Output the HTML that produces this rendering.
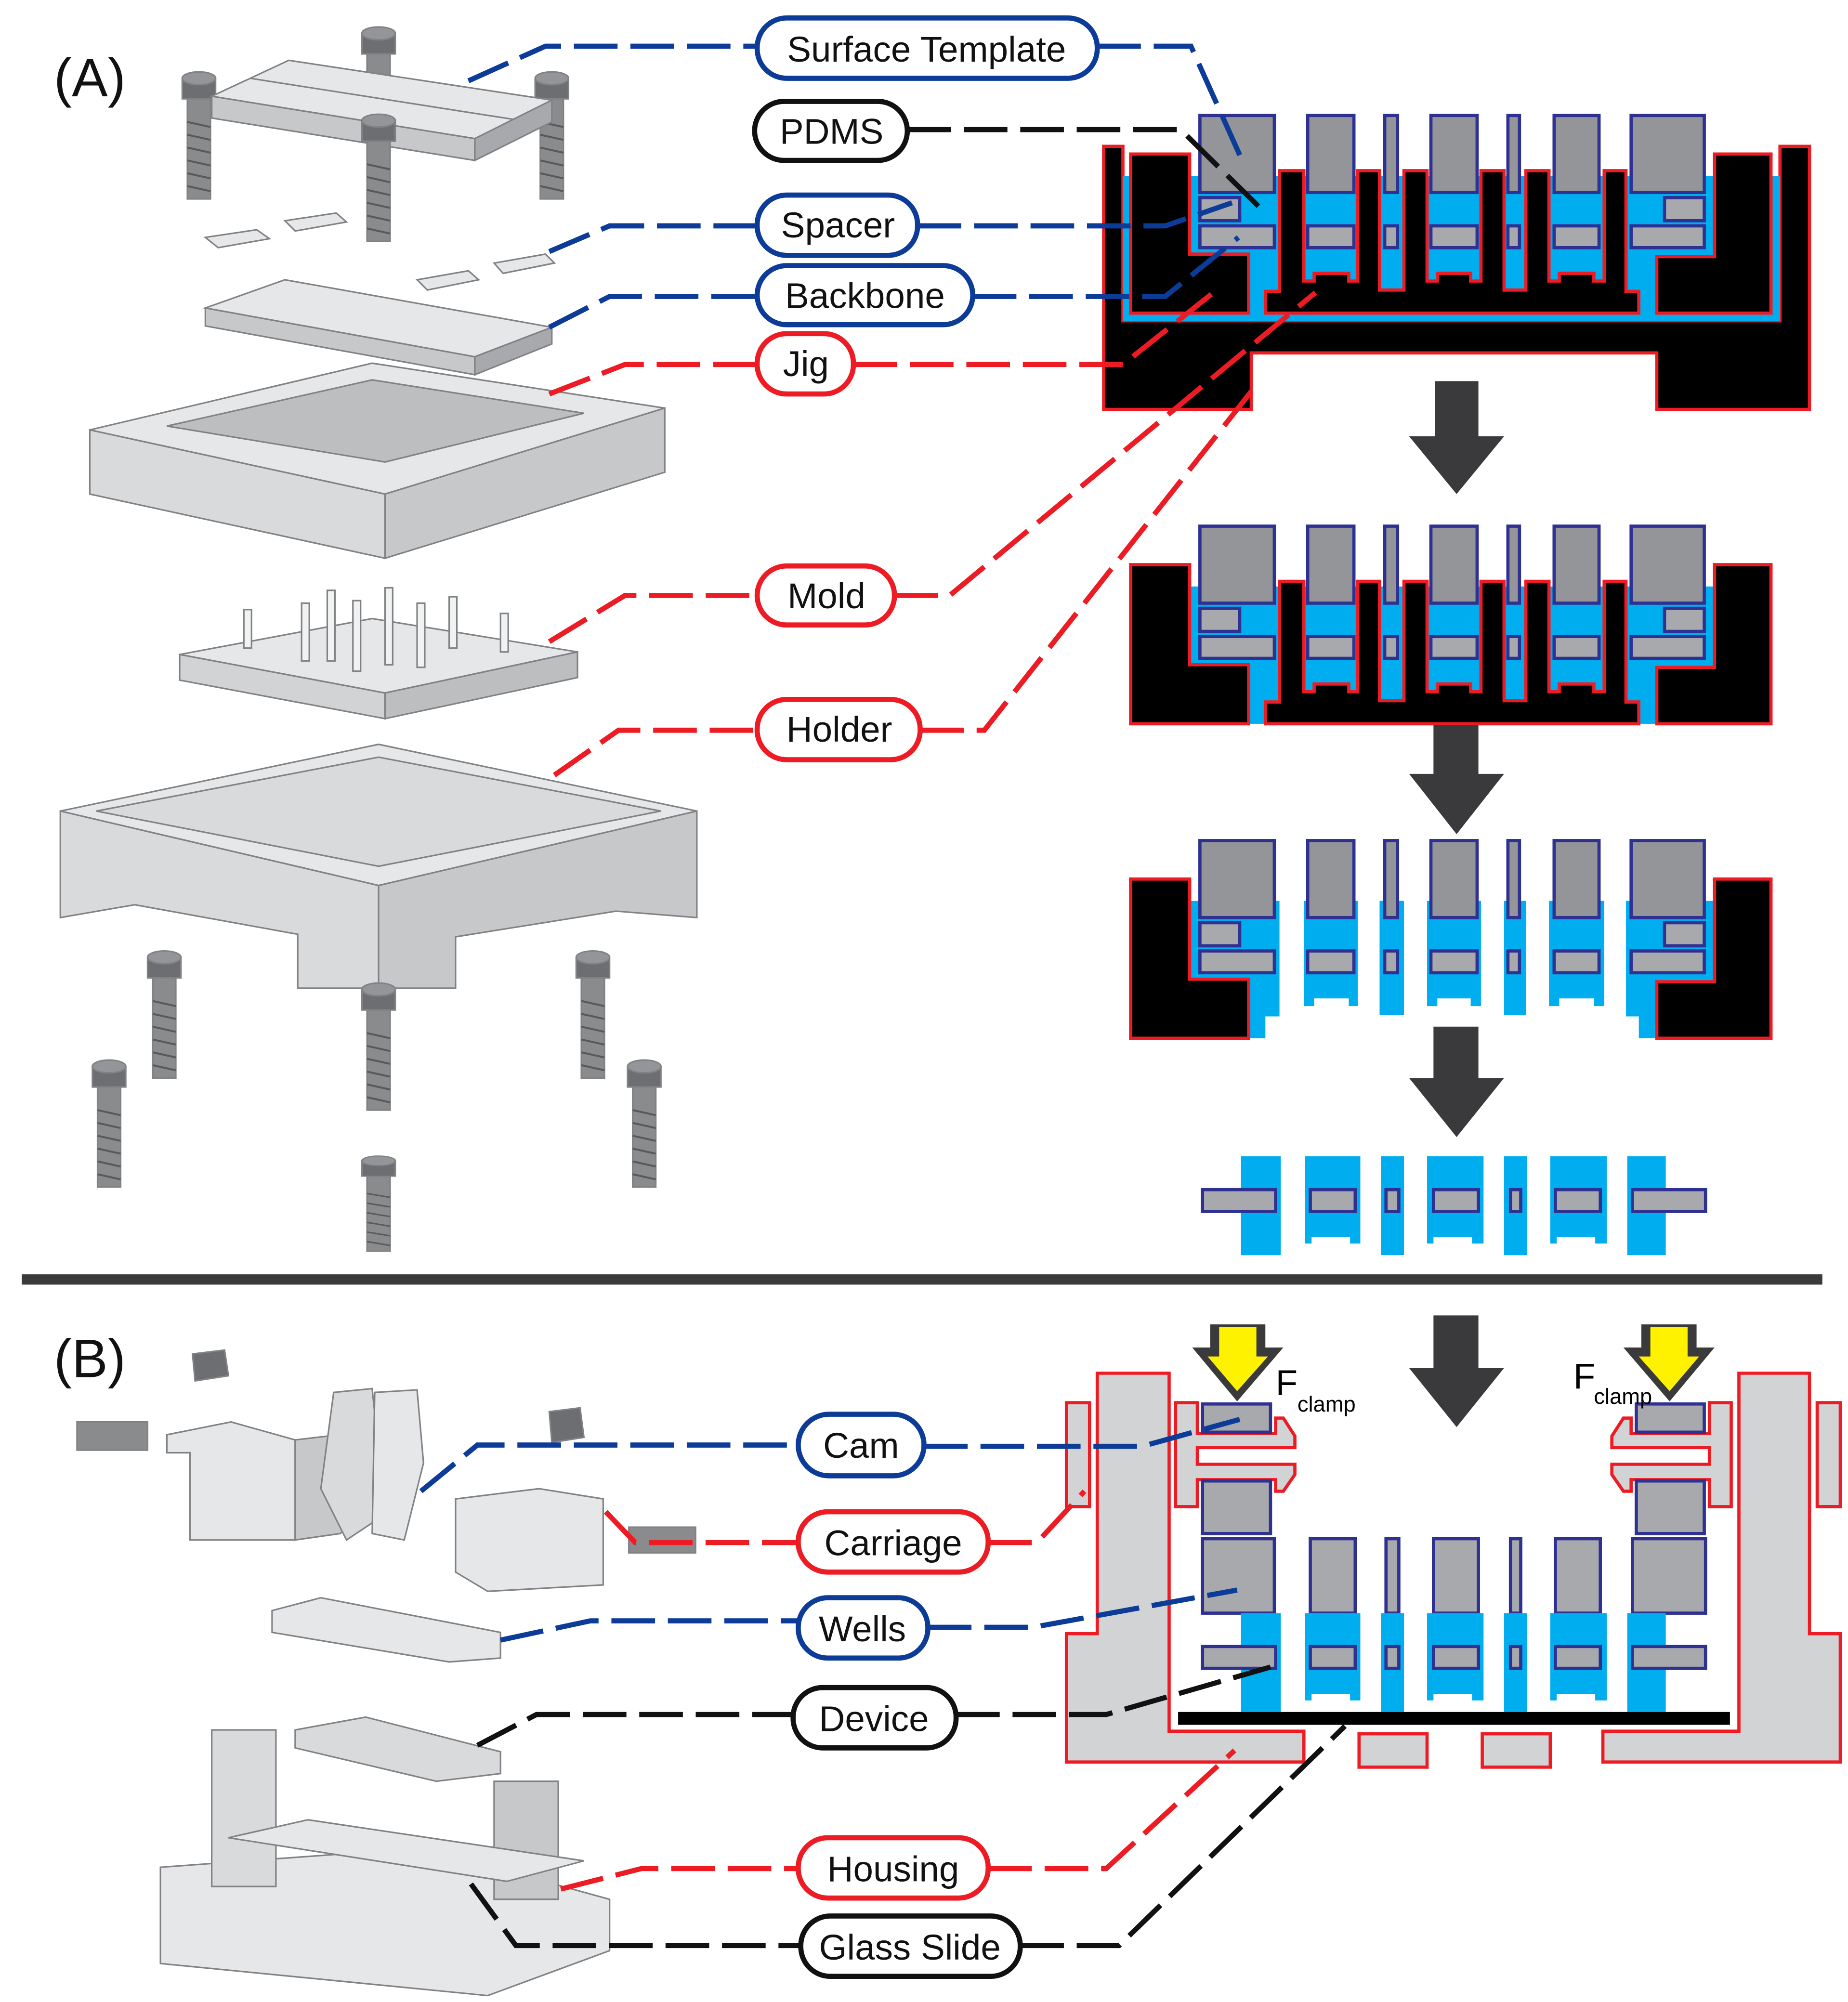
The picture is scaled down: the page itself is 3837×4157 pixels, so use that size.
<!DOCTYPE html>
<html><head><meta charset="utf-8"><style>
html,body{margin:0;padding:0;background:#fff}
svg{display:block}
text{font-family:"Liberation Sans",sans-serif}
</style></head><body>
<svg width="3837" height="4157" viewBox="0 0 1440 1560" preserveAspectRatio="none" xmlns="http://www.w3.org/2000/svg">
<defs>
<g id="tops" fill="#939598" stroke="#2e3192" stroke-width="2.5">
<rect x="935" y="90" width="58" height="60"/><rect x="1019" y="90" width="36" height="60"/><rect x="1079" y="90" width="10" height="60"/><rect x="1115" y="90" width="36" height="60"/><rect x="1175" y="90" width="9" height="60"/><rect x="1211" y="90" width="35" height="60"/><rect x="1271" y="90" width="57" height="60"/>
</g>
<g id="mids" fill="#a7a9ac" stroke="#2e3192" stroke-width="2.5">
<rect x="935" y="154" width="31" height="18"/><rect x="1297" y="154" width="31" height="18"/>
<rect x="935" y="176" width="58" height="17"/><rect x="1019" y="176" width="36" height="17"/><rect x="1079" y="176" width="10" height="17"/><rect x="1115" y="176" width="36" height="17"/><rect x="1175" y="176" width="9" height="17"/><rect x="1211" y="176" width="35" height="17"/><rect x="1271" y="176" width="57" height="17"/>
</g>
<polygon id="mold" points="986,244 986,227 997,227 997,133 1016,133 1016,219 1024,219 1024,213 1051,213 1051,219 1058,219 1058,133 1075,133 1075,226 1094,226 1094,133 1112,133 1112,219 1120,219 1120,213 1146,213 1146,219 1154,219 1154,133 1172,133 1172,226 1189,226 1189,133 1207,133 1207,219 1215,219 1215,213 1242,213 1242,219 1250,219 1250,133 1267,133 1267,227 1277,227 1277,244"/>
<g id="jigs" fill="#000" stroke="#ed1c24" stroke-width="2.5">
<polygon points="881,120 927,120 927,198 973,198 973,244 881,244"/>
<polygon points="1380,120 1336,120 1336,200 1291,200 1291,244 1380,244"/>
</g>
<g id="wellsB">
<g fill="#00aeef">
<rect x="967" y="1257" width="31" height="77"/><rect x="1017" y="1257" width="43" height="68"/><rect x="1076" y="1257" width="18" height="77"/><rect x="1112" y="1257" width="44" height="68"/><rect x="1172" y="1257" width="18" height="77"/><rect x="1208" y="1257" width="44" height="68"/><rect x="1268" y="1257" width="30" height="77"/>
</g>
<g fill="#fff"><rect x="1022" y="1320" width="30" height="6"/><rect x="1117" y="1320" width="30" height="6"/><rect x="1213" y="1320" width="30" height="6"/></g>
<g fill="#a7a9ac" stroke="#2e3192" stroke-width="2.5">
<rect x="937" y="1283" width="57" height="17"/><rect x="1021" y="1283" width="35" height="17"/><rect x="1080" y="1283" width="10" height="17"/><rect x="1117" y="1283" width="35" height="17"/><rect x="1177" y="1283" width="8" height="17"/><rect x="1212" y="1283" width="35" height="17"/><rect x="1272" y="1283" width="57" height="17"/>
</g>
</g>
<g id="clamp">
<polygon fill="#d1d3d4" stroke="#ed1c24" stroke-width="2.5" points="916,1093 933,1093 933,1117 994,1117 994,1105 1000,1105 1009,1119 1009,1128 933,1128 933,1141 1009,1141 1009,1149 1000,1162 994,1162 994,1153 933,1153 933,1174 916,1174"/>
<rect x="937" y="1094" width="53" height="22" fill="#a7a9ac" stroke="#2e3192" stroke-width="2.5"/>
<rect x="937" y="1154" width="53" height="41" fill="#a7a9ac" stroke="#2e3192" stroke-width="2.5"/>
<polygon fill="#3a3a3c" points="943,1032 986,1032 986,1050 1000,1050 964,1092 929,1050 943,1050"/>
<polygon fill="#fff200" points="950,1034 979,1034 979,1057 988,1057 964,1084 941,1057 950,1057"/>
</g>
<g id="screw"><rect x="-9" y="0" width="18" height="80" fill="#8a8b8d"/><g stroke="#58595b" stroke-width="1.5"><line x1="-9" y1="20" x2="9" y2="24"/><line x1="-9" y1="30" x2="9" y2="34"/><line x1="-9" y1="40" x2="9" y2="44"/><line x1="-9" y1="50" x2="9" y2="54"/><line x1="-9" y1="60" x2="9" y2="64"/><line x1="-9" y1="70" x2="9" y2="74"/></g><rect x="-13" y="-14" width="26" height="16" fill="#6d6e71"/><ellipse cx="0" cy="-14" rx="13" ry="5" fill="#939598"/></g>
</defs>

<polygon points="860,114 875,114 875,250 1387,250 1387,114 1410,114 1410,319 1291,319 1291,275 975,275 975,319 860,319" fill="#000" stroke="#ed1c24" stroke-width="2.5"/>
<rect x="875" y="137" width="512" height="113" fill="#00aeef"/>
<use href="#jigs"/>
<use href="#mold" fill="#000" stroke="#ed1c24" stroke-width="2.5"/>
<use href="#tops"/><use href="#mids"/>

<g transform="translate(0,320)">
<rect x="927" y="137" width="409" height="107" fill="#00aeef"/>
<use href="#jigs"/>
<use href="#mold" fill="#000" stroke="#ed1c24" stroke-width="2.5"/>
<use href="#tops"/><use href="#mids"/>
</g>
<g transform="translate(0,565)">
<rect x="927" y="137" width="409" height="107" fill="#00aeef"/>
<use href="#mold" fill="#fff"/>
<use href="#jigs"/>
<use href="#tops"/><use href="#mids"/>
</g>
<use href="#wellsB" transform="translate(0,-356)"/>

<g fill="#3a3a3c">
<polygon points="1118,297 1152,297 1152,340 1172,340 1135,385 1098,340 1118,340"/>
<polygon points="1117,565 1152,565 1152,603 1172,603 1135,650 1098,603 1117,603"/>
<polygon points="1117,800 1152,800 1152,840 1172,840 1135,886 1098,840 1117,840"/>
<polygon points="1117,1025 1152,1025 1152,1066 1172,1066 1135,1112 1098,1066 1117,1066"/>
</g>
<rect x="17" y="993" width="1403" height="8" fill="#3a3a3c"/>

<g fill="#d1d3d4" stroke="#ed1c24" stroke-width="2.5">
<polygon points="855,1070 911,1070 911,1349 1016,1349 1016,1373 831,1373 831,1273 855,1273"/>
<polygon points="1410,1070 1355,1070 1355,1349 1249,1349 1249,1373 1434,1373 1434,1273 1410,1273"/>
<rect x="831" y="1093" width="18" height="81"/><rect x="1416" y="1093" width="18" height="81"/>
<rect x="1059" y="1351" width="53" height="26"/><rect x="1155" y="1351" width="53" height="26"/>
</g>
<use href="#clamp"/>
<use href="#clamp" transform="translate(2265,0) scale(-1,1)"/>
<g fill="#a7a9ac" stroke="#2e3192" stroke-width="2.5">
<rect x="937" y="1199" width="56" height="58"/><rect x="1021" y="1199" width="35" height="58"/><rect x="1080" y="1199" width="10" height="58"/><rect x="1117" y="1199" width="35" height="58"/><rect x="1177" y="1199" width="8" height="58"/><rect x="1212" y="1199" width="35" height="58"/><rect x="1272" y="1199" width="57" height="58"/>
</g>
<use href="#wellsB"/>
<rect x="918" y="1334" width="430" height="10" fill="#000"/>
<text x="994" y="1087" font-size="28">F</text><text x="1011" y="1100" font-size="17">clamp</text>
<text x="1226" y="1082" font-size="28">F</text><text x="1242" y="1094" font-size="17">clamp</text>

<g stroke="#808285" stroke-width="1.2">
<use href="#screw" transform="translate(155,75)"/><use href="#screw" transform="translate(430,75)"/><use href="#screw" transform="translate(295,40)"/>
<polygon points="165,75 225,47 430,78 370,108" fill="#e6e7e8"/>
<polygon points="165,75 370,108 370,125 165,92" fill="#c7c8ca"/>
<polygon points="370,108 430,78 430,95 370,125" fill="#a7a9ac"/>
<line x1="195" y1="61" x2="400" y2="93"/>
<use href="#screw" transform="translate(295,108)"/>
<polygon points="160,185 200,179 210,186 170,193" fill="#e6e7e8"/><polygon points="222,172 262,166 270,173 230,180" fill="#e6e7e8"/>
<polygon points="325,218 365,211 373,218 333,226" fill="#e6e7e8"/><polygon points="385,205 425,198 432,205 392,213" fill="#e6e7e8"/>
<polygon points="160,240 222,218 430,255 370,278" fill="#e6e7e8"/>
<polygon points="160,240 370,278 370,292 160,254" fill="#c7c8ca"/>
<polygon points="370,278 430,255 430,268 370,292" fill="#a7a9ac"/>
<polygon points="70,335 290,283 518,318 300,385" fill="#e6e7e8"/>
<polygon points="130,332 290,296 455,322 300,360" fill="#bcbec0"/>
<polygon points="70,335 300,385 300,435 70,385" fill="#d9dadb"/>
<polygon points="300,385 518,318 518,368 300,435" fill="#c7c8ca"/>
<polygon points="140,510 290,482 450,508 300,540" fill="#e6e7e8"/>
<polygon points="140,510 300,540 300,560 140,530" fill="#d1d3d4"/>
<polygon points="300,540 450,508 450,528 300,560" fill="#bcbec0"/>
<g fill="#f1f2f2"><rect x="190" y="475" width="6" height="30"/><rect x="235" y="470" width="6" height="45"/><rect x="255" y="460" width="6" height="55"/><rect x="275" y="468" width="6" height="55"/><rect x="300" y="458" width="6" height="60"/><rect x="325" y="470" width="6" height="50"/><rect x="350" y="465" width="6" height="40"/><rect x="390" y="478" width="6" height="30"/></g>
<polygon points="47,632 295,580 543,632 295,690" fill="#e6e7e8"/>
<polygon points="75,632 295,590 515,632 295,675" fill="#d9dadb"/>
<polygon points="47,632 295,690 295,770 232,770 232,728 105,705 47,715" fill="#d9dadb"/>
<polygon points="295,690 543,632 543,715 480,710 355,730 355,770 295,770" fill="#c7c8ca"/>
<use href="#screw" transform="translate(128,760)"/><use href="#screw" transform="translate(462,760)"/><use href="#screw" transform="translate(295,785)"/>
<use href="#screw" transform="translate(85,845)"/><use href="#screw" transform="translate(502,845)"/><use href="#screw" transform="translate(295,915) scale(1,0.75)"/>
</g>
<g stroke="#808285" stroke-width="1.2">
<polygon points="150,1055 175,1052 178,1072 152,1076" fill="#6d6e71"/>
<polygon points="428,1100 452,1097 455,1120 430,1124" fill="#6d6e71"/>
<rect x="60" y="1108" width="55" height="22" fill="#8a8b8d"/>
<polygon points="130,1118 180,1108 230,1122 230,1200 148,1200 148,1132 130,1132" fill="#e6e7e8"/>
<polygon points="230,1122 290,1115 300,1165 265,1195 230,1200" fill="#c7c8ca"/>
<polygon points="260,1085 290,1082 300,1180 270,1200 250,1160" fill="#d9dadb"/>
<polygon points="292,1085 325,1083 330,1140 315,1200 290,1195" fill="#e6e7e8"/>
<polygon points="355,1168 420,1160 470,1168 470,1235 380,1240 355,1225" fill="#e6e7e8"/>
<rect x="490" y="1190" width="52" height="20" fill="#8a8b8d"/>
<polygon points="212,1255 250,1245 390,1272 390,1292 350,1295 212,1272" fill="#e6e7e8"/>
<polygon points="125,1455 330,1440 475,1480 475,1520 380,1555 125,1530" fill="#e6e7e8"/>
<rect x="165" y="1348" width="50" height="122" fill="#d9dadb"/>
<rect x="385" y="1388" width="50" height="92" fill="#c7c8ca"/>
<polygon points="178,1432 240,1418 455,1450 395,1466" fill="#e6e7e8"/>
<polygon points="230,1348 285,1338 390,1365 390,1382 340,1388 230,1362" fill="#d9dadb"/>
</g>

<g fill="none" stroke-width="4" stroke-dasharray="34 10">
<g stroke="#0d3c98">
<polyline points="365,63 425,36 590,36"/><polyline points="855,36 928,36 967,123"/>
<polyline points="428,196 475,176 590,176"/><polyline points="715,176 908,176 960,158"/>
<polyline points="428,255 475,231 590,231"/><polyline points="758,231 908,231 965,185"/>
<polyline points="328,1162 372,1126 622,1126"/><polyline points="720,1127 890,1127 966,1106"/>
<polyline points="390,1278 460,1263 622,1263"/><polyline points="723,1268 805,1268 964,1239"/>
</g>
<g stroke="#111">
<polyline points="707,101 920,101 985,165"/>
<polyline points="372,1360 418,1336 618,1336"/><polyline points="745,1336 862,1336 990,1299"/>
<polyline points="367,1468 402,1516 624,1516"/><polyline points="795,1516 872,1516 1048,1345"/>
</g>
<g stroke="#ed1c24">
<polyline points="428,307 487,284 590,284"/><polyline points="665,284 875,284 948,226"/>
<polyline points="428,500 487,464 590,464"/><polyline points="697,464 740,464 1025,228"/>
<polyline points="432,604 482,569 590,569"/><polyline points="717,569 767,569 975,305"/>
<polyline points="472,1178 495,1202 622,1202"/><polyline points="770,1202 808,1202 845,1162"/>
<polyline points="437,1472 500,1456 622,1456"/><polyline points="770,1456 862,1456 962,1364"/>
</g>
</g>

<g fill="#fff" stroke-width="4">
<rect x="590" y="14" width="265" height="47" rx="23" stroke="#0d3c98"/>
<rect x="588" y="79" width="119" height="46" rx="23" stroke="#111"/>
<rect x="590" y="152" width="125" height="47" rx="23" stroke="#0d3c98"/>
<rect x="590" y="207" width="168" height="46" rx="23" stroke="#0d3c98"/>
<rect x="590" y="260" width="75" height="47" rx="23" stroke="#ed1c24"/>
<rect x="590" y="441" width="107" height="46" rx="23" stroke="#ed1c24"/>
<rect x="590" y="545" width="127" height="47" rx="23" stroke="#ed1c24"/>
<rect x="622" y="1102" width="98" height="48" rx="24" stroke="#0d3c98"/>
<rect x="622" y="1178" width="148" height="47" rx="23" stroke="#ed1c24"/>
<rect x="622" y="1245" width="101" height="47" rx="23" stroke="#0d3c98"/>
<rect x="618" y="1315" width="127" height="47" rx="23" stroke="#111"/>
<rect x="622" y="1432" width="148" height="47" rx="23" stroke="#ed1c24"/>
<rect x="624" y="1493" width="171" height="47" rx="23" stroke="#111"/>
</g>
<g font-size="28" text-anchor="middle" fill="#111">
<text x="722" y="48">Surface Template</text>
<text x="648" y="112">PDMS</text>
<text x="653" y="185">Spacer</text>
<text x="674" y="240">Backbone</text>
<text x="628" y="293">Jig</text>
<text x="644" y="474">Mold</text>
<text x="654" y="578">Holder</text>
<text x="671" y="1136">Cam</text>
<text x="696" y="1212">Carriage</text>
<text x="672" y="1279">Wells</text>
<text x="681" y="1349">Device</text>
<text x="696" y="1466">Housing</text>
<text x="709" y="1527">Glass Slide</text>
</g>
<text x="42" y="75" font-size="42" fill="#111">(A)</text>
<text x="42" y="1073" font-size="42" fill="#111">(B)</text>
</svg>
</body></html>
